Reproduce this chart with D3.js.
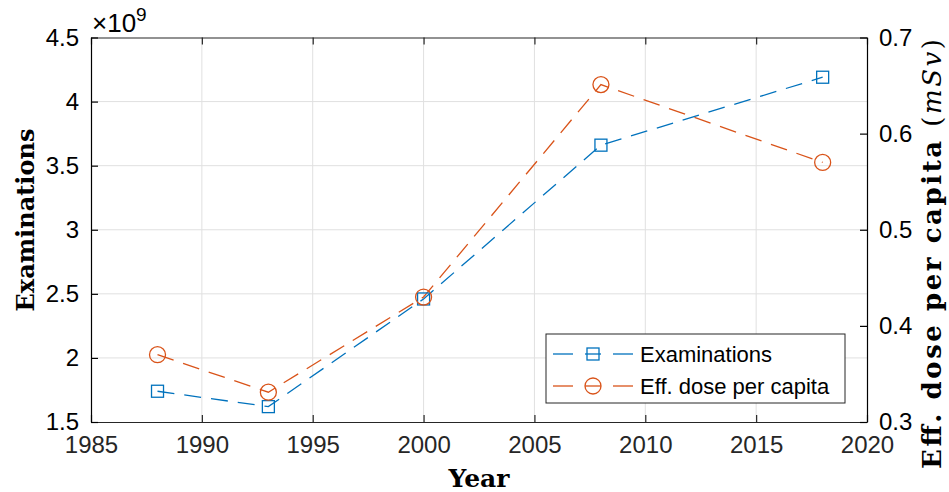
<!DOCTYPE html>
<html>
<head>
<meta charset="utf-8">
<title>chart</title>
<style>
  body { margin: 0; background: #fff; }
  svg text { font-family: "Liberation Sans", Arial, sans-serif; }
</style>
</head>
<body>
<div id="chart"></div>
<script src="https://cdn.jsdelivr.net/npm/d3@7"></script>
<script>

// data
var years = [1988, 1993, 2000, 2008, 2018];
var examinations = [1.74, 1.62, 2.46, 3.66, 4.19];   // x 10^9
var dosePerCapita = [0.370, 0.331, 0.430, 0.651, 0.570]; // mSv
var xTicks = [1985, 1990, 1995, 2000, 2005, 2010, 2015, 2020];
var yLeftTicks = [1.5, 2, 2.5, 3, 3.5, 4, 4.5];
var yRightTicks = [0.3, 0.4, 0.5, 0.6, 0.7];
var seriesNames = ['Examinations', 'Eff. dose per capita'];

var W = 949, H = 492;
var pL = 91, pR = 867, pT = 37.5, pB = 422;
var blue = '#0072BD', orange = '#D95319', axisCol = '#262626';
var dash = '17,10';

var svg = d3.select('#chart').append('svg')
  .attr('width', W).attr('height', H);

var x = d3.scaleLinear().domain([1985, 2020]).range([pL, pR]);
var yL = d3.scaleLinear().domain([1.5, 4.5]).range([pB, pT]);
var yR = d3.scaleLinear().domain([0.3, 0.7]).range([pB, pT]);

// grid
var grid = svg.append('g').attr('stroke', '#e0e0e0').attr('stroke-width', 1);
xTicks.slice(1, -1).forEach(t => {
  grid.append('line').attr('x1', x(t)).attr('x2', x(t)).attr('y1', pT).attr('y2', pB);
});
yLeftTicks.slice(1, -1).forEach(t => {
  grid.append('line').attr('x1', pL).attr('x2', pR).attr('y1', yL(t)).attr('y2', yL(t));
});

// axes
var axB = svg.append('g').attr('transform', 'translate(0,' + pB + ')')
  .call(d3.axisBottom(x).tickValues(xTicks).tickFormat(d3.format('d')).tickSizeInner(-7).tickSizeOuter(0).tickPadding(14));
var axT = svg.append('g').attr('transform', 'translate(0,' + pT + ')')
  .call(d3.axisTop(x).tickValues(xTicks).tickFormat('').tickSizeInner(-7).tickSizeOuter(0));
var axL = svg.append('g').attr('transform', 'translate(' + pL + ',0)')
  .call(d3.axisLeft(yL).tickValues(yLeftTicks).tickFormat(d3.format('')).tickSizeInner(-7).tickSizeOuter(0).tickPadding(12));
var axR = svg.append('g').attr('transform', 'translate(' + pR + ',0)')
  .call(d3.axisRight(yR).tickValues(yRightTicks).tickFormat(d3.format('.1f')).tickSizeInner(-7).tickSizeOuter(0).tickPadding(12));

[axB, axT].forEach(a => {
  a.selectAll('path, line').attr('stroke', axisCol).attr('stroke-width', 1.2);
  a.selectAll('text').attr('fill', axisCol).style('font-size', '24px');
});
[axL, axR].forEach(a => {
  a.selectAll('path, line').attr('stroke', '#000').attr('stroke-width', 1.2);
  a.selectAll('text').attr('fill', '#000').style('font-size', '24px');
});
axB.selectAll('text').attr('dy', '0.71em');

// exponent label
var ex = svg.append('text').attr('x', 92).attr('y', 32).style('font-size', '26px').attr('fill', '#000');
ex.append('tspan').text('\u00d710');
ex.append('tspan').attr('dy', -11).style('font-size', '19px').text('9');

// axis titles
svg.append('text')
  .attr('transform', 'translate(34,220) rotate(-90)')
  .attr('text-anchor', 'middle')
  .style('font-family', '"DejaVu Serif", serif').style('font-weight', 'bold').style('font-size', '24px')
  .text('Examinations');
svg.append('text')
  .attr('x', 479).attr('y', 487)
  .attr('text-anchor', 'middle')
  .style('font-family', '"DejaVu Serif", serif').style('font-weight', 'bold').style('font-size', '25px')
  .text('Year');
var rt = svg.append('text')
  .attr('transform', 'translate(941,254) rotate(-90)')
  .attr('text-anchor', 'middle')
  .attr('textLength', 430).attr('lengthAdjust', 'spacing')
  .style('font-family', '"DejaVu Serif", serif').style('font-size', '26px');
rt.append('tspan').style('font-weight', 'bold').text('Eff. dose per capita ');
rt.append('tspan').text('(');
rt.append('tspan').style('font-style', 'italic').text('mSv');
rt.append('tspan').text(')');

// series
var lineL = d3.line().x((d, i) => x(years[i])).y(d => yL(d));
var lineR = d3.line().x((d, i) => x(years[i])).y(d => yR(d));

svg.append('path').attr('d', lineL(examinations))
  .attr('fill', 'none').attr('stroke', blue).attr('stroke-width', 1.3).attr('stroke-dasharray', dash);
svg.append('path').attr('d', lineR(dosePerCapita))
  .attr('fill', 'none').attr('stroke', orange).attr('stroke-width', 1.3).attr('stroke-dasharray', dash);

svg.selectAll('.sq').data(examinations).enter().append('rect')
  .attr('x', (d, i) => x(years[i]) - 6).attr('y', d => yL(d) - 6)
  .attr('width', 12).attr('height', 12)
  .attr('fill', 'none').attr('stroke', blue).attr('stroke-width', 1.3);
svg.selectAll('.ci').data(dosePerCapita).enter().append('circle')
  .attr('cx', (d, i) => x(years[i])).attr('cy', d => yR(d)).attr('r', 8)
  .attr('fill', 'none').attr('stroke', orange).attr('stroke-width', 1.3);

// legend
var lg = svg.append('g');
lg.append('rect').attr('x', 546).attr('y', 334).attr('width', 299).attr('height', 69)
  .attr('fill', '#fff').attr('stroke', axisCol).attr('stroke-width', 1);
[blue, orange].forEach((c, i) => {
  var ly = 354 + i * 32;
  lg.append('line').attr('x1', 553).attr('x2', 573).attr('y1', ly).attr('y2', ly).attr('stroke', c).attr('stroke-width', 1.3);
  lg.append('line').attr('x1', 613).attr('x2', 633).attr('y1', ly).attr('y2', ly).attr('stroke', c).attr('stroke-width', 1.3);
  lg.append('line').attr('x1', 585).attr('x2', 601).attr('y1', ly).attr('y2', ly).attr('stroke', c).attr('stroke-width', 1.3);
  if (i === 0) {
    lg.append('rect').attr('x', 587).attr('y', ly - 6).attr('width', 12).attr('height', 12)
      .attr('fill', 'none').attr('stroke', c).attr('stroke-width', 1.3);
  } else {
    lg.append('circle').attr('cx', 593).attr('cy', ly).attr('r', 8)
      .attr('fill', 'none').attr('stroke', c).attr('stroke-width', 1.3);
  }
  lg.append('text').attr('x', 640).attr('y', ly).attr('dy', '0.35em')
    .style('font-size', '22px').attr('fill', '#000').text(seriesNames[i]);
});

</script>
</body>
</html>
